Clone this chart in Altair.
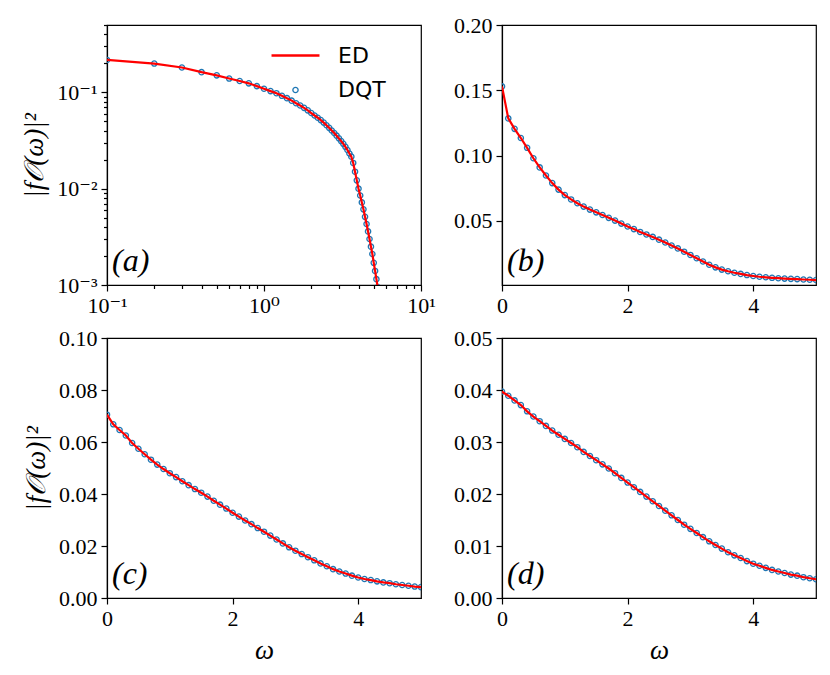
import altair as alt
import pandas as pd

# ---------------- data ----------------
omega_a = [0.1, 0.2, 0.3, 0.4, 0.5, 0.6, 0.7, 0.8, 0.9, 1.0,
           1.1, 1.2, 1.3, 1.4, 1.5, 1.6, 1.7, 1.8, 1.9, 2.0,
           2.1, 2.2, 2.3, 2.4, 2.5, 2.6, 2.7, 2.8, 2.9, 3.0,
           3.1, 3.2, 3.3, 3.4, 3.5, 3.6, 3.7, 3.8, 3.9, 4.0,
           4.1, 4.2, 4.3, 4.4, 4.5, 4.6, 4.7, 4.8, 4.9, 5.0,
           5.1, 5.2, 5.3]
vals_a = [0.217, 0.199, 0.181, 0.162, 0.150, 0.139, 0.131, 0.124, 0.116, 0.109,
          0.103, 0.098, 0.092, 0.087, 0.082, 0.077, 0.073, 0.069, 0.065, 0.061,
          0.0575, 0.0545, 0.0515, 0.0485, 0.0455, 0.0428, 0.0402, 0.0378, 0.0355, 0.0333,
          0.0312, 0.0292, 0.0272, 0.0252, 0.0232, 0.0215, 0.0185, 0.0150, 0.0122, 0.0100,
          0.0085, 0.0072, 0.0061, 0.0051, 0.0043, 0.0036, 0.0030, 0.0025, 0.0021, 0.0017,
          0.0014, 0.00115, 0.00095]

omega_lin = [0.0, 0.1, 0.2, 0.3, 0.4, 0.5, 0.6, 0.7, 0.8, 0.9, 1.0,
             1.1, 1.2, 1.3, 1.4, 1.5, 1.6, 1.7, 1.8, 1.9, 2.0,
             2.1, 2.2, 2.3, 2.4, 2.5, 2.6, 2.7, 2.8, 2.9, 3.0,
             3.1, 3.2, 3.3, 3.4, 3.5, 3.6, 3.7, 3.8, 3.9, 4.0,
             4.1, 4.2, 4.3, 4.4, 4.5, 4.6, 4.7, 4.8, 4.9, 5.0]
vals_b = [0.153, 0.1285, 0.1205, 0.1135, 0.106, 0.098, 0.091, 0.0848, 0.079, 0.074, 0.0698,
          0.0665, 0.0636, 0.061, 0.0587, 0.0566, 0.0546, 0.0524, 0.0503, 0.048, 0.0458,
          0.0438, 0.0416, 0.0397, 0.0378, 0.0357, 0.0335, 0.0312, 0.029, 0.0265, 0.024,
          0.0215, 0.019, 0.0165, 0.0145, 0.0128, 0.0115, 0.0104, 0.0095, 0.0086, 0.0079,
          0.0073, 0.0069, 0.0065, 0.0062, 0.0059, 0.0057, 0.0055, 0.0052, 0.005, 0.0048]
vals_c = [0.0705, 0.0668, 0.0646, 0.0625, 0.0596, 0.0574, 0.0553, 0.0532, 0.0513, 0.0496, 0.048,
          0.0465, 0.0449, 0.0434, 0.0419, 0.0405, 0.039, 0.0374, 0.0359, 0.0344, 0.0328,
          0.0313, 0.0298, 0.0284, 0.0269, 0.0255, 0.024, 0.0225, 0.021, 0.0195, 0.0182,
          0.0169, 0.0157, 0.0145, 0.0133, 0.0122, 0.0111, 0.0102, 0.0094, 0.0086, 0.0079,
          0.0073, 0.0069, 0.0064, 0.006, 0.0057, 0.0053, 0.005, 0.0047, 0.0044, 0.0042]
vals_d = [0.0397, 0.0389, 0.038, 0.0371, 0.0359, 0.0349, 0.034, 0.0331, 0.0322, 0.0314, 0.0306,
          0.0298, 0.029, 0.0281, 0.0273, 0.0265, 0.0257, 0.0249, 0.024, 0.0231, 0.0222,
          0.0213, 0.0204, 0.0195, 0.0186, 0.0177, 0.0168, 0.0159, 0.015, 0.0141, 0.0133,
          0.0125, 0.0117, 0.0109, 0.0102, 0.0095, 0.0088, 0.0082, 0.0077, 0.0071, 0.0066,
          0.0062, 0.0058, 0.0054, 0.0051, 0.0048, 0.0045, 0.0043, 0.004, 0.0038, 0.0036]

series_names = ["ED", "DQT"]
panel_tags = ["(a)", "(b)", "(c)", "(d)"]
log_x_major = [0.1, 1, 10]
log_x_minor = [0.2, 0.3, 0.4, 0.5, 0.6, 0.7, 0.8, 0.9, 2, 3, 4, 5, 6, 7, 8, 9]
log_y_major = [0.001, 0.01, 0.1]
log_y_minor = [0.002, 0.003, 0.004, 0.005, 0.006, 0.007, 0.008, 0.009,
               0.02, 0.03, 0.04, 0.05, 0.06, 0.07, 0.08, 0.09, 0.2, 0.3, 0.4, 0.5]
ytick_b = [0.05, 0.10, 0.15, 0.20]
ytick_c = [0.0, 0.02, 0.04, 0.06, 0.08, 0.10]
ytick_d = [0.0, 0.01, 0.02, 0.03, 0.04, 0.05]
xtick_lin = [0, 2, 4]

YTITLE = "|f\U0001D4AA(ω)|²"
XTITLE = "ω"

# ---------------- style ----------------
BLUE = "#1f77b4"
RED = "#ff0000"
SERIF = "Liberation Serif, DejaVu Serif, serif"
W, H = 314, 260
PT_SIZE = 28
PT_STROKE = 1.3


def panel(omega, vals, tag, log, ydom=None, yticks=None, ytitle=None, xtitle=None, legend=False):
    df = pd.DataFrame({"omega": omega, "value": vals})
    df["series"] = "DQT"
    if log:
        xs = alt.Scale(type="log", domain=[0.1, 10], nice=False)
        ys = alt.Scale(type="log", domain=[0.001, 0.5], nice=False)
        xaxis = alt.Axis(values=log_x_major, orient="bottom", tickSize=6,
                         labelExpr="datum.value < 0.5 ? '10⁻¹' : datum.value < 5 ? '10⁰' : '10¹'",
                         title=None)
        yaxis = alt.Axis(values=log_y_major, orient="left", tickSize=6,
                         labelExpr="datum.value > 0.05 ? '10⁻¹' : datum.value > 0.005 ? '10⁻²' : '10⁻³'",
                         title=ytitle)
        line_x_axis = None
        line_y_axis = None
    else:
        xs = alt.Scale(domain=[0, 5], nice=False, zero=False)
        ys = alt.Scale(domain=ydom, nice=False, zero=False)
        xaxis = alt.Axis(values=xtick_lin, format="d", tickSize=6, title=xtitle)
        yaxis = alt.Axis(values=yticks, format=".2f", tickSize=6, title=ytitle)
        line_x_axis = xaxis
        line_y_axis = yaxis

    if legend:
        leg = alt.Legend(orient="none", legendX=163, legendY=5, title=None,
                         labelFont="DejaVu Sans", labelFontSize=22, labelColor="black",
                         rowPadding=12, labelOffset=17, symbolType="circle")
        enc_extra = dict(
            color=alt.Color("series:N", scale=alt.Scale(domain=series_names, range=[RED, BLUE]), legend=leg),
            shape=alt.Shape("series:N", scale=alt.Scale(domain=series_names, range=["stroke", "circle"]), legend=leg),
            size=alt.Size("series:N", scale=alt.Scale(domain=series_names, range=[2300, PT_SIZE]), legend=leg),
            strokeWidth=alt.StrokeWidth("series:N", scale=alt.Scale(domain=series_names, range=[2.4, PT_STROKE]), legend=leg),
        )
    else:
        enc_extra = dict(color=alt.value(BLUE), size=alt.value(PT_SIZE), strokeWidth=alt.value(PT_STROKE))

    pts = alt.Chart(df).mark_point(filled=False, clip=True, opacity=1).encode(
        x=alt.X("omega:Q", scale=xs, axis=xaxis),
        y=alt.Y("value:Q", scale=ys, axis=yaxis),
        **enc_extra,
    )
    line = alt.Chart(df).mark_line(color=RED, strokeWidth=2.2, clip=True).encode(
        x=alt.X("omega:Q", scale=xs, axis=line_x_axis),
        y=alt.Y("value:Q", scale=ys, axis=line_y_axis),
    )
    lab = alt.Chart(pd.DataFrame({"t": [tag]})).mark_text(
        font=SERIF, fontSize=32, fontStyle="italic", align="left", baseline="alphabetic", color="black"
    ).encode(text="t:N", x=alt.value(5), y=alt.value(H - 14))

    layers = [pts, line, lab]
    if log:
        minor = alt.Chart(df).mark_point(opacity=0).encode(
            x=alt.X("omega:Q", scale=xs,
                    axis=alt.Axis(values=log_x_minor, orient="bottom", labels=False, tickSize=3.5,
                                  domain=False, title=None)),
            y=alt.Y("value:Q", scale=ys,
                    axis=alt.Axis(values=log_y_minor, orient="left", labels=False, tickSize=3.5,
                                  domain=False, title=None)),
        )
        layers.append(minor)
        ch = alt.layer(*layers).resolve_axis(x="independent", y="independent")
    else:
        ch = alt.layer(*layers)
    return ch.properties(width=W, height=H)


pa = panel(omega_a, vals_a, panel_tags[0], True, ytitle=YTITLE, legend=True)
pb = panel(omega_lin, vals_b, panel_tags[1], False, ydom=[0.001, 0.2], yticks=ytick_b)
pc = panel(omega_lin, vals_c, panel_tags[2], False, ydom=[0.0, 0.1], yticks=ytick_c, ytitle=YTITLE, xtitle=XTITLE)
pd_ = panel(omega_lin, vals_d, panel_tags[3], False, ydom=[0.0, 0.05], yticks=ytick_d, xtitle=XTITLE)

chart = alt.concat(pa, pb, pc, pd_, columns=2, spacing={"row": 9, "column": 16}).properties(
    padding={"left": 12, "top": 5, "right": 5, "bottom": 5}
).configure_view(
    stroke="black", strokeWidth=1.2
).configure_axis(
    domainColor="black", domainWidth=1.2, tickColor="black", tickWidth=1.2,
    labelColor="black", labelFont=SERIF, labelFontSize=22, labelPadding=4, labelFlush=False,
    labelOverlap=False,
    titleFont=SERIF, titleFontSize=27, titleFontWeight="normal", titleColor="black",
    titleFontStyle="italic", titlePadding=8, grid=False,
)

chart.save("out.html", embed_options={"renderer": "svg", "actions": False})
